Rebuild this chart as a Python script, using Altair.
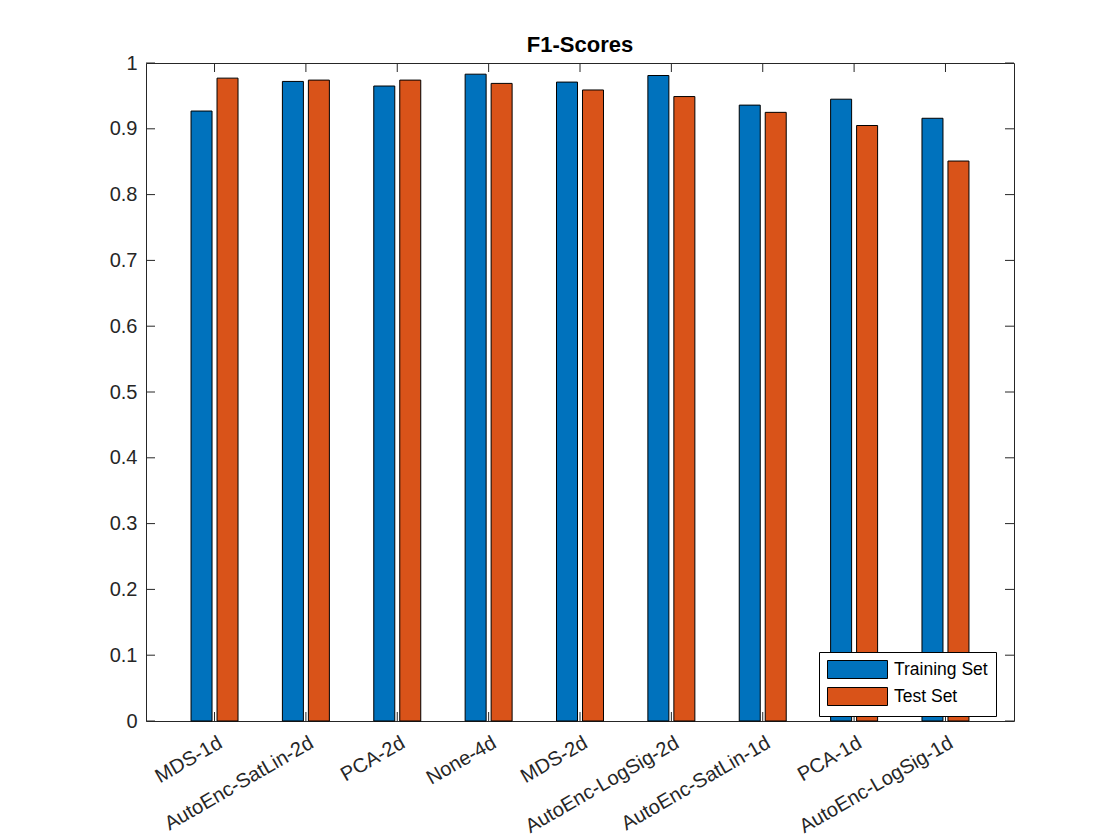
import altair as alt
import pandas as pd

categories = ["MDS-1d", "AutoEnc-SatLin-2d", "PCA-2d", "None-4d", "MDS-2d",
              "AutoEnc-LogSig-2d", "AutoEnc-SatLin-1d", "PCA-1d", "AutoEnc-LogSig-1d"]
series = ["Training Set", "Test Set"]
training = [0.927, 0.972, 0.965, 0.983, 0.971, 0.981, 0.936, 0.945, 0.916]
test = [0.977, 0.974, 0.974, 0.969, 0.959, 0.949, 0.925, 0.905, 0.851]
y_ticks = [0, 0.1, 0.2, 0.3, 0.4, 0.5, 0.6, 0.7, 0.8, 0.9, 1.0]
colors = ["#0072BD", "#D95319"]

FONT = "Liberation Sans"
W, H = 868, 658
TICK = 9

rows = []
for c, tr, te in zip(categories, training, test):
    rows.append({"cat": c, "series": "Training Set", "value": tr})
    rows.append({"cat": c, "series": "Test Set", "value": te})
df = pd.DataFrame(rows)
cat_df = pd.DataFrame({"cat": categories})
ytick_df = pd.DataFrame({"v": y_ticks})

xscale = alt.Scale(domain=categories, paddingInner=0, paddingOuter=0.25)
yscale = alt.Scale(domain=[0, 1], nice=False, zero=True)

bars = alt.Chart(df).mark_bar(stroke="black", strokeWidth=1, opacity=1).encode(
    x=alt.X("cat:N", scale=xscale, sort=categories,
            axis=alt.Axis(title=None, labelAngle=-30, labelAlign="right",
                          labelBaseline="middle", labelPadding=20, labelOffset=6,
                          ticks=False, domain=False, labelFontSize=20,
                          labelColor="#262626", labelFont=FONT, labelOverlap=False,
                          labelLimit=400)),
    xOffset=alt.XOffset("series:N", sort=series,
                        scale=alt.Scale(domain=series, paddingInner=0.192, paddingOuter=0.854)),
    y=alt.Y("value:Q", scale=yscale,
            axis=alt.Axis(title=None, values=y_ticks, format=".1~f", ticks=False,
                          domain=False, grid=False, labelPadding=9, labelFontSize=20,
                          labelColor="#262626", labelFont=FONT)),
    color=alt.Color("series:N", sort=series,
                    scale=alt.Scale(domain=series, range=colors),
                    legend=alt.Legend(title=None, orient="none", legendX=673, legendY=589,
                                      symbolType="M-1,-1L5.667,-1L5.667,1L-1,1Z",
                                      symbolSize=324, symbolStrokeColor="black",
                                      symbolStrokeWidth=1, symbolOpacity=1,
                                      labelFontSize=17.5, labelFont=FONT, labelColor="black",
                                      labelOffset=48, rowPadding=4, padding=8,
                                      fillColor="white", strokeColor="black",
                                      cornerRadius=0)),
)

left_ticks = alt.Chart(ytick_df).mark_rule(color="#262626", strokeWidth=1).encode(
    y=alt.Y("v:Q", scale=yscale), x=alt.value(0), x2=alt.value(TICK))
right_ticks = alt.Chart(ytick_df).mark_rule(color="#262626", strokeWidth=1).encode(
    y=alt.Y("v:Q", scale=yscale), x=alt.value(W - TICK), x2=alt.value(W))
bottom_ticks = alt.Chart(cat_df).mark_rule(color="#262626", strokeWidth=1).encode(
    x=alt.X("cat:N", scale=xscale, sort=categories, bandPosition=0.5),
    y=alt.value(H - TICK), y2=alt.value(H))
top_ticks = alt.Chart(cat_df).mark_rule(color="#262626", strokeWidth=1).encode(
    x=alt.X("cat:N", scale=xscale, sort=categories, bandPosition=0.5),
    y=alt.value(0), y2=alt.value(TICK))

chart = alt.layer(bars, bottom_ticks, top_ticks, left_ticks, right_ticks).properties(
    width=W, height=H,
    title=alt.Title("F1-Scores", fontSize=22, fontWeight="bold", color="black",
                    font=FONT, offset=-4),
    autosize=alt.AutoSizeParams(type="none"),
    padding={"left": 138, "top": 55, "right": 98, "bottom": 117},
    background="white",
).configure_view(stroke="#262626", strokeWidth=1)

chart.save("out.html", embed_options={"renderer": "svg", "actions": False})
